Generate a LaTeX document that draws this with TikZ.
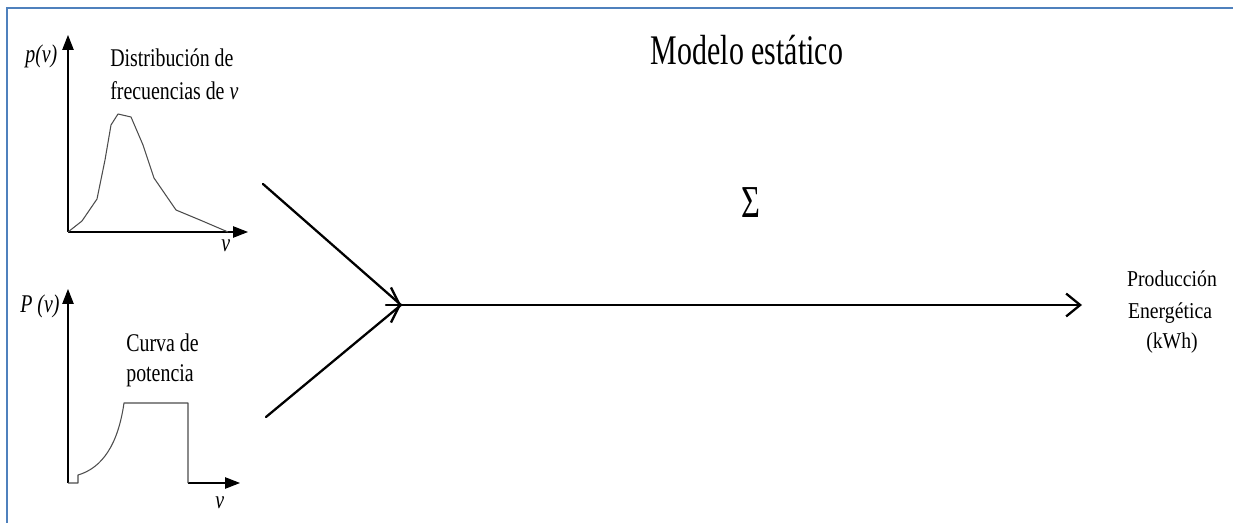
\documentclass[tikz,border=0pt]{standalone}
\usepackage{fontspec}
\setmainfont{Liberation Serif}[FakeStretch=0.78]
\newfontfamily\titlefont{Liberation Serif}[FakeStretch=0.71]
\newfontfamily\outfont{Liberation Serif}[FakeStretch=0.87]
\usetikzlibrary{arrows.meta}
\definecolor{frameblue}{RGB}{79,129,189}
\tikzset{
  axisline/.style={line width=0.6pt, -{Triangle[length=8.5pt,width=6.5pt]}},
  plotline/.style={line width=0.6pt, draw=black!70, line join=round},
  txt/.style={inner sep=0pt, anchor=base west, font=\fontsize{14.5}{17}\selectfont},
  outtxt/.style={inner sep=0pt, anchor=base, font=\outfont\fontsize{12.9}{17}\selectfont},
  flow/.style={line width=1.3pt, line cap=round},
  mainflow/.style={line width=1.7pt, -{Straight Barb[length=8pt,width=13pt,line width=1.3pt]}},
}
\begin{document}
\begin{tikzpicture}[x=0.02cm, y=-0.02cm]
  \useasboundingbox (0,0) rectangle (1233,523);
  % frame
  \draw[frameblue, line width=1.7pt] (7,523) -- (7,8) -- (1233,8);

  % frequency distribution of v
  \coordinate (O1) at (68,232);
  \draw[axisline] (O1) -- (68,35);
  \draw[axisline] (O1) -- (248,232);
  \draw[plotline] (O1) -- (82,221) -- (97,199) -- (105,160) -- (111,125)
    -- (118,114) -- (131,117) -- (143,145) -- (154,178) -- (176,210)
    -- (200,220) -- (228,232);
  \node[txt] (py) at (25,63) {\itshape p(v)};
  \node[txt] (dist1) at (110,67) {Distribución de};
  \node[txt] (dist2) at (110,100) {frecuencias de \textit{v}};
  \node[txt] (vx1) at (221,252) {\itshape v};

  % power curve
  \coordinate (O2) at (68,483);
  \draw[axisline] (O2) -- (68,289);
  \draw[axisline] (188,483) -- (240,483);
  \draw[plotline] (O2) -- (78,483) -- (78,475)
    .. controls (102,468) and (118,445) .. (124,403) -- (188,403) -- (188,483);
  \node[txt] (PY) at (20,313) {\itshape P (v)};
  \node[txt] (pow1) at (126,351) {Curva de};
  \node[txt] (pow2) at (126,381) {potencia};
  \node[txt] (vx2) at (215,508) {\itshape v};

  % model
  \node[anchor=base, inner sep=0pt, font=\titlefont\fontsize{24}{28}\selectfont]
    (model) at (747,65) {Modelo estático};
  \node[anchor=base, inner sep=0pt, font=\titlefont\fontsize{26}{30}\selectfont]
    (sum) at (751,218) {Σ};

  % output
  \node[outtxt] (out1) at (1172,287) {Producción};
  \node[outtxt] (out2) at (1170,318) {Energética};
  \node[outtxt] (out3) at (1172,348) {(kWh)};

  % arrows
  \coordinate (fromdist) at (263,184);
  \coordinate (frompow) at (266,417);
  \coordinate (stub) at (386,305);
  \coordinate (join) at (401,305);
  \coordinate (tip) at (1082,305);
  \draw[flow] (fromdist) -- (join);
  \draw[flow] (frompow) -- (join);
  \draw[mainflow] (stub) -- (tip);
  \draw[flow, -{Straight Barb[length=5pt,width=20pt]}] (stub) -- (join);
\end{tikzpicture}
\end{document}
